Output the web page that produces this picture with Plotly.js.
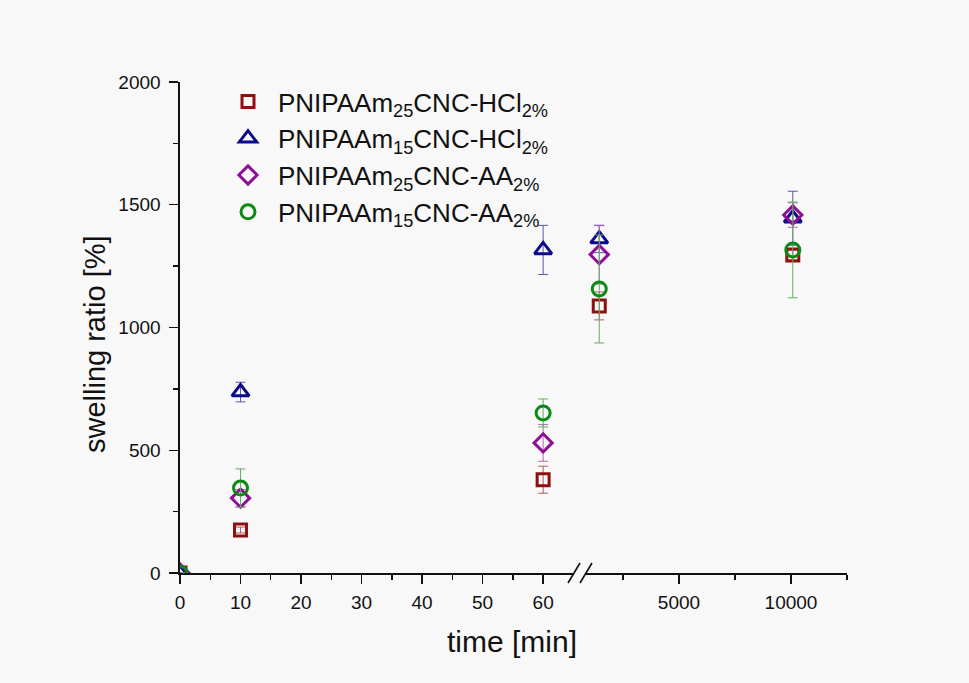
<!DOCTYPE html>
<html><head><meta charset="utf-8">
<script src="https://cdn.plot.ly/plotly-3.0.1.min.js"></script>
<style>html,body{margin:0;padding:0;background:#f8f8f8;}#chart{width:969px;height:683px;}</style>
</head><body><div id="chart"></div>
<script>
// ---- data ----
const times = [0, 10, 60, 1440, 10080];
const names = ['PNIPAAm<sub>25</sub>CNC-HCl<sub>2%</sub>','PNIPAAm<sub>15</sub>CNC-HCl<sub>2%</sub>','PNIPAAm<sub>25</sub>CNC-AA<sub>2%</sub>','PNIPAAm<sub>15</sub>CNC-AA<sub>2%</sub>'];
const hcl25 = [0, 175, 380, 1088, 1295];
const hcl25Err = [0, 12, 55, 57, 20];
const hcl15 = [0, 737, 1316, 1360, 1445];
const hcl15Err = [0, 40, 100, 55, 110];
const aa25 = [0, 305, 530, 1297, 1458];
const aa25Err = [0, 35, 75, 120, 50];
const aa15 = [0, 346, 652, 1157, 1316];
const aa15Err = [0, 78, 57, 220, 195];
const xTicksLeft = [0,10,20,30,40,50,60];
const xTicksRight = [5000,10000];
const xTickTextRight = ['5000','10000'];

// ---- style ----
const series = [
  {y: hcl25, e: hcl25Err, sym: 'square-open', col: '#8b1111', ecol: '#b35b5b', size: 12},
  {y: hcl15, e: hcl15Err, sym: 'triangle-up-open', col: '#0a0a8c', ecol: '#5a5aa8', size: 15},
  {y: aa25, e: aa25Err, sym: 'diamond-open', col: '#8e0e96', ecol: '#b369b8', size: 14},
  {y: aa15, e: aa15Err, sym: 'circle-open', col: '#0b8a14', ecol: '#62ae62', size: 14}
];
const BREAK = 65;
const traces = [];
series.forEach((s, i) => {
  const idxL = times.map((t,k)=>k).filter(k => times[k] <= BREAK);
  const idxR = times.map((t,k)=>k).filter(k => times[k] > BREAK);
  [[idxL,'x',true],[idxR,'x2',false]].forEach(([idx, ax, show]) => {
    traces.push({
      type: 'scatter', mode: 'markers', xaxis: ax, yaxis: 'y',
      x: idx.map(k=>times[k]), y: idx.map(k=>s.y[k]),
      name: names[i], legendgroup: 'g'+i, showlegend: show,
      marker: {symbol: s.sym, size: s.size, color: s.col, line: {width: 3, color: s.col}},
      error_y: {type: 'data', array: idx.map(k=>s.e[k]), visible: true, color: s.ecol, thickness: 1, width: 5}
    });
  });
});

const L = 180, R = 847, T = 82, B = 573;
const W = R - L, H = B - T;
const px = v => (v - L) / W;
const py = v => (B - v) / H;
const axFont = {family: 'Liberation Sans, Arial, sans-serif', size: 19, color: '#111'};
const common = {showline: true, linecolor: '#111', linewidth: 1.6, ticks: 'outside', ticklen: 9, tickwidth: 1.4, tickcolor: '#111',
  showgrid: false, zeroline: false, tickfont: axFont, fixedrange: true};

const layout = {
  width: 969, height: 683,
  margin: {l: L, r: 969 - R, t: T, b: 683 - B},
  paper_bgcolor: '#f8f8f8', plot_bgcolor: 'rgba(0,0,0,0)',
  showlegend: true,
  legend: {x: px(218), y: py(78), xanchor: 'left', yanchor: 'top', bgcolor: 'rgba(0,0,0,0)',
    font: {family: 'Liberation Sans, Arial, sans-serif', size: 26, color: '#111'}, tracegroupgap: 0, itemwidth: 50},
  xaxis: Object.assign({}, common, {domain: [0, px(574)], range: [0, 65.1], tickvals: xTicksLeft, ticklabelstandoff: 3,
    minor: {tickvals: [5,15,25,35,45,55], ticks: 'outside', ticklen: 5, tickwidth: 1.4, tickcolor: '#111'}, anchor: 'y'}),
  xaxis2: Object.assign({}, common, {domain: [px(586), 1], range: [848, 12500], tickvals: xTicksRight, ticktext: xTickTextRight, ticklabelstandoff: 3,
    minor: {tickvals: [2500, 7500, 12500], ticks: 'outside', ticklen: 5, tickwidth: 1.4, tickcolor: '#111'}, anchor: 'y'}),
  yaxis: Object.assign({}, common, {range: [0, 2000], dtick: 500, ticklabelstandoff: 5,
    minor: {dtick: 250, ticks: 'outside', ticklen: 5, tickwidth: 1.4, tickcolor: '#111'}}),
  shapes: [
    {type: 'line', xref: 'paper', yref: 'paper', x0: px(568), y0: py(583), x1: px(580), y1: py(563), line: {color: '#111', width: 1.6}},
    {type: 'line', xref: 'paper', yref: 'paper', x0: px(580), y0: py(583), x1: px(592), y1: py(563), line: {color: '#111', width: 1.6}}
  ],
  annotations: [
    {text: 'time [min]', xref: 'paper', yref: 'paper', x: px(512), y: py(641), xanchor: 'center', yanchor: 'middle', showarrow: false,
      font: {family: 'Liberation Sans, Arial, sans-serif', size: 30, color: '#111'}},
    {text: 'swelling ratio [%]', xref: 'paper', yref: 'paper', x: px(95), y: py(344), xanchor: 'center', yanchor: 'middle', showarrow: false, textangle: -90,
      font: {family: 'Liberation Sans, Arial, sans-serif', size: 29, color: '#111'}}
  ]
};
Plotly.newPlot('chart', traces, layout, {displayModeBar: false, staticPlot: true});
</script></body></html>
